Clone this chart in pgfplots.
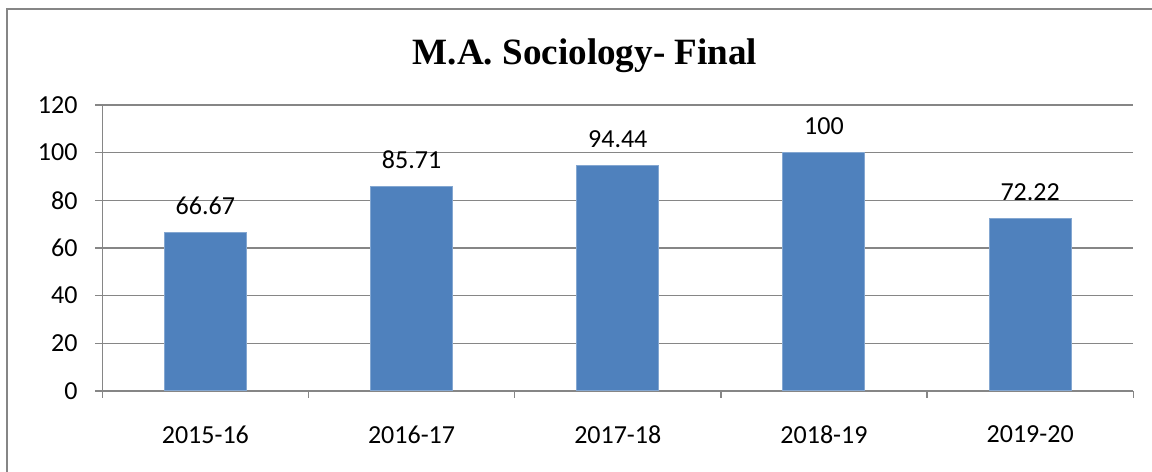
\documentclass[border=0pt]{standalone}
\usepackage{pgfplots}
\pgfplotsset{compat=1.18}
\usepackage{fontspec}
\setmainfont{Carlito}
\newfontfamily\titlefont{Liberation Serif}
\definecolor{barblue}{HTML}{4F81BD}
\definecolor{gridgray}{HTML}{868686}
\begin{document}
\begin{tikzpicture}[x=1pt,y=1pt]
\useasboundingbox (0,0) rectangle (460.8,188.8);
\draw[gridgray,line width=0.8pt] (2.8,0) -- (2.8,185.2) -- (460.8,185.2);
\node[font=\titlefont\bfseries\fontsize{14.85}{16}\selectfont] at (234,166.4) {M.A. Sociology- Final};
\begin{axis}[
  at={(49.6,34.0)}, anchor=south west,
  scale only axis, width=412.4pt, height=114.4pt,
  xmin=-0.5, xmax=4.5, ymin=0, ymax=120,
  ytick={0,20,...,120},
  xtick={0,1,2,3,4},
  xticklabels={2015-16,2016-17,2017-18,2018-19,2019-20},
  minor xtick={-0.5,0.5,...,4.5},
  axis x line=bottom, axis y line=left,
  axis line style={gridgray,line width=0.6pt,-},
  ymajorgrids, major grid style={gridgray,line width=0.6pt},
  major x tick style={draw=none},
  minor x tick style={gridgray,line width=0.6pt},
  major y tick style={gridgray,line width=0.6pt},
  tick align=outside,
  major tick length=2.8pt, minor tick length=2.8pt,
  /pgf/number format/assume math mode=true,
  tick label style={font=\fontsize{10.4}{12}\selectfont, text=black},
  yticklabel style={xshift=-3.6pt},
  xticklabel style={yshift=-7.6pt},
  ybar, bar width=32.8pt,
  nodes near coords,
  nodes near coords style={font=\fontsize{10.4}{12}\selectfont, text=black, yshift=3.6pt},
  every node near coord/.append style={/pgf/number format/fixed,/pgf/number format/precision=2, /pgf/number format/assume math mode=true},
  clip=false,
]
\addplot[fill=barblue, draw=barblue!70!white, line width=0.4pt] coordinates {(0,66.67) (1,85.71) (2,94.44) (3,100) (4,72.22)};
\end{axis}
\end{tikzpicture}
\end{document}
